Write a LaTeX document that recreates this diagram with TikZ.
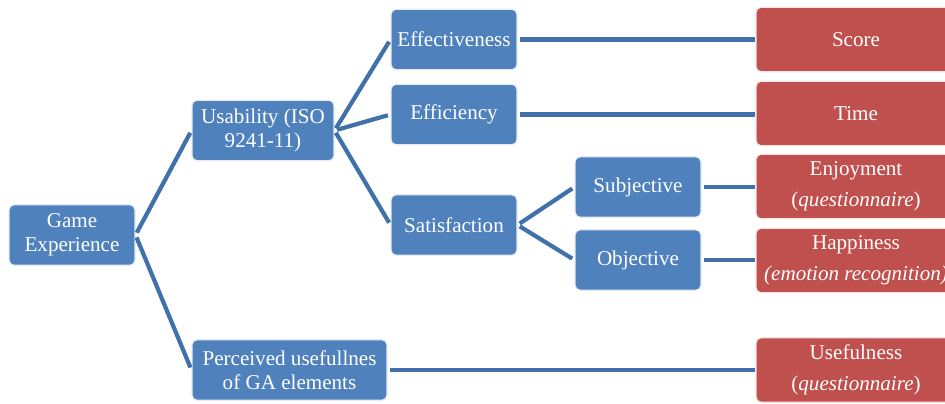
\documentclass[tikz,border=0pt]{standalone}
\usepackage{fontspec}
\setmainfont{Liberation Serif}
\usetikzlibrary{positioning}
\definecolor{boxblue}{HTML}{4F81BD}
\definecolor{boxred}{HTML}{C0504D}
\definecolor{linkblue}{HTML}{4171AB}

\begin{document}
\begin{tikzpicture}[
  bluebox/.style={draw=white!85!boxblue,line width=0.6pt,rounded corners=3pt,fill=boxblue,text=white,align=center,font=\fontsize{12}{13.5}\selectfont,inner sep=2pt,minimum width=2.52cm,minimum height=1.21cm},
  redbox/.style={draw=white!85!boxred,line width=0.6pt,rounded corners=3pt,fill=boxred,text=white,align=center,font=\fontsize{12}{17.5}\selectfont,inner sep=2pt,minimum width=4.0cm,minimum height=1.29cm},
  link/.style={draw=linkblue,line width=2.4pt,shorten <=1.5pt,shorten >=1.5pt}]
\useasboundingbox (0,0) rectangle (18.9,-8.08);
\clip (0,0) rectangle (18.9,-8.08);
\node[bluebox] (ge) at (1.44,-4.70) {Game\\Experience};
\node[bluebox,minimum width=2.84cm] (us) at (5.26,-2.61) {Usability (ISO\\9241-11)};
\node[bluebox,minimum width=3.90cm] (pu) at (5.79,-7.40) {Perceived usefullnes\\of GA elements};
\node[bluebox] (eff) at (9.08,-0.79) {Effectiveness};
\node[bluebox] (efc) at (9.08,-2.29) {Efficiency};
\node[bluebox] (sat) at (9.08,-4.50) {Satisfaction};
\node[bluebox] (sub) at (12.76,-3.74) {Subjective};
\node[bluebox] (obj) at (12.76,-5.20) {Objective};
\node[redbox] (score) at (17.12,-0.79) {Score};
\node[redbox] (time) at (17.12,-2.27) {Time};
\node[redbox] (enj) at (17.12,-3.73) {Enjoyment\\(\textit{questionnaire})};
\node[redbox] (hap) at (17.12,-5.21) {Happiness\\\textit{(emotion recognition)}};
\node[redbox] (use) at (17.12,-7.40) {Usefulness\\(\textit{questionnaire})};
% tree links
\draw[link] (ge.east) -- (us.west);
\draw[link] (ge.east) -- (pu.west);
\draw[link] (us.east) -- (eff.west);
\draw[link] (us.east) -- (efc.west);
\draw[link] (us.east) -- (sat.west);
\draw[link] (sat.east) -- (sub.west);
\draw[link] (sat.east) -- (obj.west);
% measures
\draw[link,shorten >=0pt] (eff.east) -- (score.west |- eff.east);
\draw[link,shorten >=0pt] (efc.east) -- (time.west |- efc.east);
\draw[link,shorten >=0pt] (sub.east) -- (enj.west |- sub.east);
\draw[link,shorten >=0pt] (obj.east) -- (hap.west |- obj.east);
\draw[link,shorten >=0pt] (pu.east) -- (use.west |- pu.east);
\end{tikzpicture}
\end{document}
